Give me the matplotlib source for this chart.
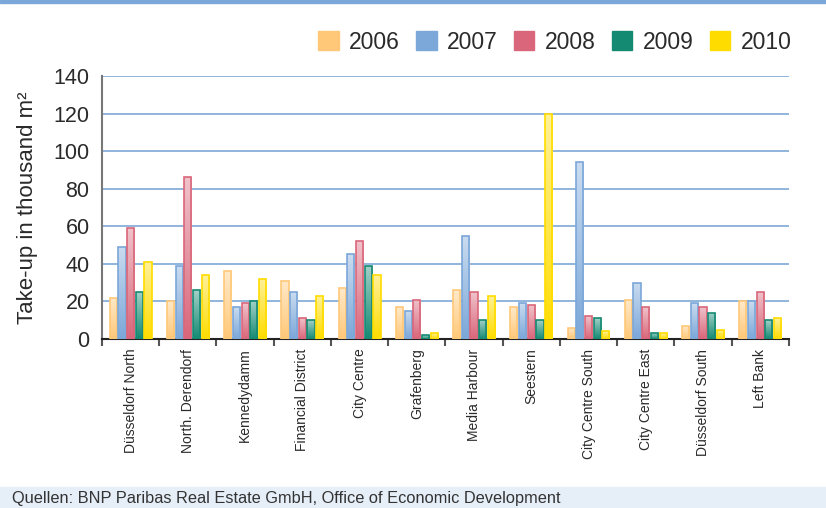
import numpy as np
import matplotlib.pyplot as plt
from matplotlib.colors import to_rgb
from matplotlib.patches import Rectangle, Patch

# Dados
distritos = ["Düsseldorf North", "North. Derendorf", "Kennedydamm", "Financial District",
             "City Centre", "Grafenberg", "Media Harbour", "Seestern",
             "City Centre South", "City Centre East", "Düsseldorf South", "Left Bank"]
anos = ["2006", "2007", "2008", "2009", "2010"]
v2006 = [22, 20, 36, 31, 27, 17, 26, 17, 6, 21, 7, 20]
v2007 = [49, 39, 17, 25, 45, 15, 55, 19, 94, 30, 19, 20]
v2008 = [59, 86, 19, 11, 52, 21, 25, 18, 12, 17, 17, 25]
v2009 = [25, 26, 20, 10, 39, 2, 10, 10, 11, 3, 14, 10]
v2010 = [41, 34, 32, 23, 34, 3, 23, 120, 4, 3, 5, 11]
series = [v2006, v2007, v2008, v2009, v2010]
cores = ["#FFC878", "#7BA7D9", "#D9667A", "#158A73", "#FFDC00"]

plt.rcParams['font.family'] = ['Liberation Sans', 'DejaVu Sans']

fig = plt.figure(figsize=(8.26, 5.08), dpi=100)
ax = fig.add_axes([0.1235, 0.3327, 0.8315, 0.5177])

x = np.arange(len(distritos))
passo = 0.152
largura = 0.125

def degrade(cor, ret):
    # gradiente claro em cima, cor cheia embaixo
    c = np.array(to_rgb(cor))
    claro = c + (1 - c) * 0.6
    t = np.linspace(0, 1, 64)[:, None]
    img = claro * (1 - t) + c * t
    img = img[:, None, :]
    x0, y0 = ret.get_x(), ret.get_y()
    w, h = ret.get_width(), ret.get_height()
    im = ax.imshow(img, extent=[x0, x0 + w, y0, y0 + h], aspect='auto',
                   origin='upper', zorder=3, interpolation='bilinear')
    im.set_clip_path(ret)

for i, (vals, cor) in enumerate(zip(series, cores)):
    barras = ax.bar(x + (i - 2) * passo, vals, largura, facecolor='none',
                    edgecolor=cor, linewidth=1.2, zorder=4)
    for b in barras:
        degrade(cor, b)

ax.set_xlim(-0.5, len(distritos) - 0.5)
ax.set_ylim(0, 140)
ax.set_yticks(range(0, 141, 20))
ax.tick_params(axis='y', labelsize=15.5, length=0, pad=9, colors='#2a2a2a')
ax.yaxis.grid(True, color='#8FB4DC', linewidth=1.4)
ax.set_axisbelow(True)

ax.set_xticks(x)
ax.set_xticklabels(distritos, rotation=90, fontsize=10, color='#2a2a2a')
ax.tick_params(axis='x', which='major', length=0, pad=7)
ax.set_xticks(np.arange(-0.5, len(distritos)), minor=True)
ax.tick_params(axis='x', which='minor', length=5, width=1.5, color='#555555', direction='out')

for s in ['top', 'right']:
    ax.spines[s].set_visible(False)
ax.spines['left'].set_color('#777777')
ax.spines['left'].set_linewidth(1.5)
ax.spines['bottom'].set_color('#222222')
ax.spines['bottom'].set_linewidth(1.5)

ax.set_ylabel("Take-up in thousand m²", fontsize=16, color='#2a2a2a', labelpad=11)

handles = [Patch(facecolor=c, edgecolor=c) for c in cores]
fig.legend(handles, anos, loc='upper right', bbox_to_anchor=(0.983, 0.98), ncol=5,
           frameon=False, fontsize=16.5, handlelength=0.9, handleheight=0.9,
           handletextpad=0.45, columnspacing=0.7, labelcolor='#2a2a2a')

# moldura da figura
fig.patches.append(Rectangle((0, 0.994), 1, 0.006, transform=fig.transFigure,
                             color='#7BA7D9', zorder=0))
fig.patches.append(Rectangle((0, 0), 1, 0.041, transform=fig.transFigure,
                             color='#E6EEF8', zorder=0))
fig.text(0.015, 0.019, "Quellen: BNP Paribas Real Estate GmbH, Office of Economic Development",
         fontsize=11.8, color='#333333', va='center')

fig.savefig("out.png", dpi=100)
